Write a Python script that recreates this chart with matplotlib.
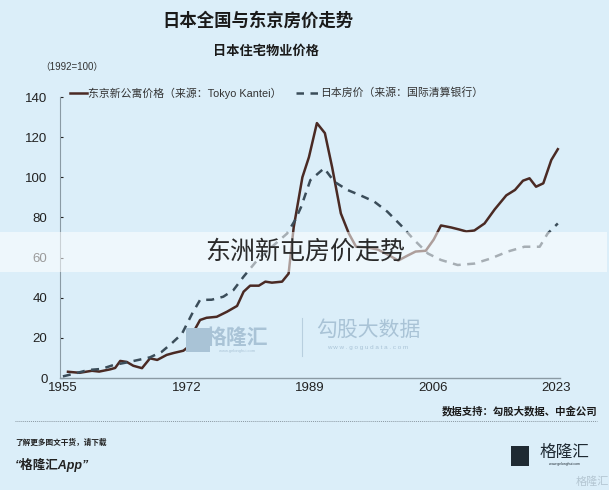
import matplotlib.pyplot as plt
import matplotlib.patches as mpatches
import numpy as np

plt.rcParams['font.family'] = ['Liberation Sans', 'Noto Sans CJK SC', 'DejaVu Sans']

# 东京新公寓价格（Tokyo Kantei）
tokyo_year = [1955.7, 1957.3, 1959.0, 1960.0, 1961.5, 1962.2, 1962.9, 1963.8, 1964.7,
              1965.9, 1967.0, 1968.0, 1969.3, 1970.3, 1971.6, 1972.1, 1973.0, 1973.9,
              1974.8, 1976.2, 1977.6, 1979.0, 1979.9, 1980.8, 1982.0, 1982.9, 1983.8,
              1985.2, 1986.1, 1986.8, 1987.3, 1988.0, 1988.9, 1990.0, 1991.1, 1992.1,
              1993.3, 1994.4, 1995.4, 1997.0, 1998.4, 2000.0, 2001.2, 2002.5, 2003.6,
              2005.0, 2006.1, 2007.1, 2008.5, 2009.6, 2010.6, 2011.7, 2013.1, 2014.5,
              2016.1, 2017.3, 2018.4, 2019.3, 2020.2, 2021.2, 2022.3, 2023.2]
tokyo_val = [3.1, 2.6, 3.6, 3.2, 4.3, 5.0, 8.5, 8.0, 6.1,
             4.9, 9.8, 9.0, 11.5, 12.5, 13.6, 15.0, 23.0, 28.9,
             30.0, 30.5, 33.0, 35.9, 43.0, 46.0, 46.0, 48.0, 47.5,
             48.0, 52.0, 75.0, 85.4, 100.0, 110.0, 127.0, 122.0, 105.0,
             82.0, 72.0, 65.4, 65.0, 64.0, 61.0, 58.5, 61.0, 63.0,
             63.4, 69.0, 76.0, 75.0, 74.0, 73.0, 73.5, 77.0, 84.0,
             91.0, 93.7, 98.3, 99.5, 95.3, 97.0, 108.6, 114.0]

# 日本房价（国际清算银行）
bis_year = [1955.0, 1956.7, 1958.5, 1960.3, 1962.0, 1963.6, 1965.4, 1967.0, 1968.6,
            1970.0, 1971.4, 1972.8, 1973.1, 1973.9, 1975.5, 1977.1, 1978.5, 1979.9,
            1981.8, 1984.0, 1985.9, 1987.0, 1987.8, 1989.1, 1991.0, 1992.4, 1994.2,
            1996.0, 1997.9, 1999.7, 2001.6, 2003.4, 2005.3, 2007.1, 2009.4, 2011.7,
            2014.0, 2016.3, 2018.6, 2020.7, 2021.8, 2023.2]
bis_val = [0.8, 2.3, 4.0, 4.5, 6.5, 7.6, 9.0, 10.3, 13.0,
           17.3, 22.0, 32.0, 33.9, 38.9, 39.0, 40.5, 43.8, 50.5,
           58.8, 66.0, 72.0, 78.7, 85.0, 98.6, 104.5, 97.8, 93.7,
           91.0, 87.9, 82.9, 76.0, 68.8, 62.0, 58.8, 56.3, 57.0,
           59.6, 63.0, 65.4, 65.4, 72.0, 77.0]

x_ticks = [1955, 1972, 1989, 2006, 2023]
y_ticks = [0, 20, 40, 60, 80, 100, 120, 140]

bg = '#dbeef9'
fig = plt.figure(figsize=(6.09, 4.90), dpi=100, facecolor=bg)
ax = fig.add_axes([60 / 609, 1 - 378 / 490, 500 / 609, 281 / 490], facecolor=bg)

ax.plot(tokyo_year, tokyo_val, color='#4a2a24', lw=1.8, zorder=3)
ax.plot(bis_year, bis_val, color='#3b4d5a', lw=1.8, ls=(0, (3.2, 2.6)), zorder=3)

ax.set_xlim(1954.6, 2023.5)
ax.set_ylim(0, 140)
ax.set_xticks(x_ticks)
ax.set_yticks(y_ticks)
ax.tick_params(axis='x', length=0, pad=3, labelsize=9.5, colors='#222222')
ax.tick_params(axis='y', length=2, direction='in', pad=9, labelsize=9.5,
               colors='#222222')
for s in ['top', 'right']:
    ax.spines[s].set_visible(False)
ax.spines['left'].set_color('#8a9aa4')
ax.spines['bottom'].set_color('#8a9aa4')
ax.spines['left'].set_linewidth(0.8)
ax.spines['bottom'].set_linewidth(1.0)

# 图例（手绘）
fig.add_artist(plt.Line2D([70 / 609, 87 / 609], [1 - 93 / 490] * 2, color='#4a2a24', lw=1.8))
fig.text(88 / 609, 1 - 93 / 490, '东京新公寓价格（来源：Tokyo Kantei）', fontsize=7.8,
         va='center', ha='left', color='#333333')
fig.add_artist(plt.Line2D([296 / 609, 318 / 609], [1 - 93 / 490] * 2, color='#3b4d5a',
                          lw=1.8, ls=(0, (3.0, 2.6))))
fig.text(320 / 609, 1 - 93 / 490, '日本房价（来源：国际清算银行）', fontsize=7.8,
         va='center', ha='left', color='#333333')

# 标题
fig.text(258 / 609, 1 - 20 / 490, '日本全国与东京房价走势', fontsize=12.5, weight='bold',
         ha='center', va='center', color='#1a1a1a')
fig.text(266 / 609, 1 - 52 / 490, '日本住宅物业价格', fontsize=9.5, weight='bold',
         ha='center', va='center', color='#1a1a1a')
fig.text(40 / 609, 1 - 67 / 490, '（1992=100）', fontsize=7, ha='left', va='center',
         color='#333333')

# 图内水印
fig.text(237 / 609, 1 - 338 / 490, '格隆汇', fontsize=15, ha='center', va='center',
         color='#a9c3d6', weight='bold')
fig.add_artist(mpatches.Rectangle((186 / 609, 1 - 352 / 490), 24 / 609, 24 / 490,
                                  transform=fig.transFigure, color='#a9c3d6', lw=0))
fig.text(237 / 609, 1 - 351 / 490, 'www.gelonghui.com', fontsize=3, ha='center',
         va='center', color='#a9c3d6')
fig.add_artist(plt.Line2D([302 / 609] * 2, [1 - 318 / 490, 1 - 356 / 490],
                          color='#b8cfdf', lw=0.8))
fig.text(368 / 609, 1 - 330 / 490, '勾股大数据', fontsize=15, ha='center', va='center',
         color='#a9c3d6')
fig.text(368 / 609, 1 - 347 / 490, 'w w w . g o g u d a t a . c o m', fontsize=4.5,
         ha='center', va='center', color='#a9c3d6')

# 半透明横带 + 文字
fig.add_artist(mpatches.Rectangle((0, 1 - 272 / 490), 607 / 609, 40 / 490,
                                  transform=fig.transFigure, color='white', alpha=0.55,
                                  lw=0, zorder=5))
fig.text(305 / 609, 1 - 252 / 490, '东洲新屯房价走势', fontsize=18, ha='center', va='center',
         color='#2a2a2a', family=['Noto Sans CJK SC'], weight='light', zorder=6)

# 页脚
fig.text(597 / 609, 1 - 411 / 490, '数据支持：勾股大数据、中金公司', fontsize=7.5,
         weight='bold', ha='right', va='center', color='#1a1a1a')
fig.add_artist(plt.Line2D([15 / 609, 597 / 609], [1 - 421 / 490] * 2, color='#8a98a2',
                          lw=0.7, ls=(0, (1, 1))))
fig.text(15 / 609, 1 - 443 / 490, '了解更多图文干货，请下载', fontsize=5.5, weight='bold',
         style='italic', ha='left', va='center', color='#222222')
fig.text(15 / 609, 1 - 465 / 490, '“格隆汇App”', fontsize=9, weight='bold',
         style='italic', ha='left', va='center', color='#222222')
fig.add_artist(mpatches.Rectangle((511 / 609, 1 - 466 / 490), 18 / 609, 20 / 490,
                                  transform=fig.transFigure, color='#1f2a33', lw=0))
fig.text(564 / 609, 1 - 452 / 490, '格隆汇', fontsize=12, ha='center', va='center',
         color='#1f2a33')
fig.text(564 / 609, 1 - 464 / 490, 'www.gelonghui.com', fontsize=2.5, ha='center',
         va='center', color='#1f2a33')
fig.text(592 / 609, 1 - 482 / 490, '格隆汇', fontsize=8, ha='center', va='center',
         color='#b4c6d2')

fig.savefig('out.png', dpi=100, facecolor=bg)
